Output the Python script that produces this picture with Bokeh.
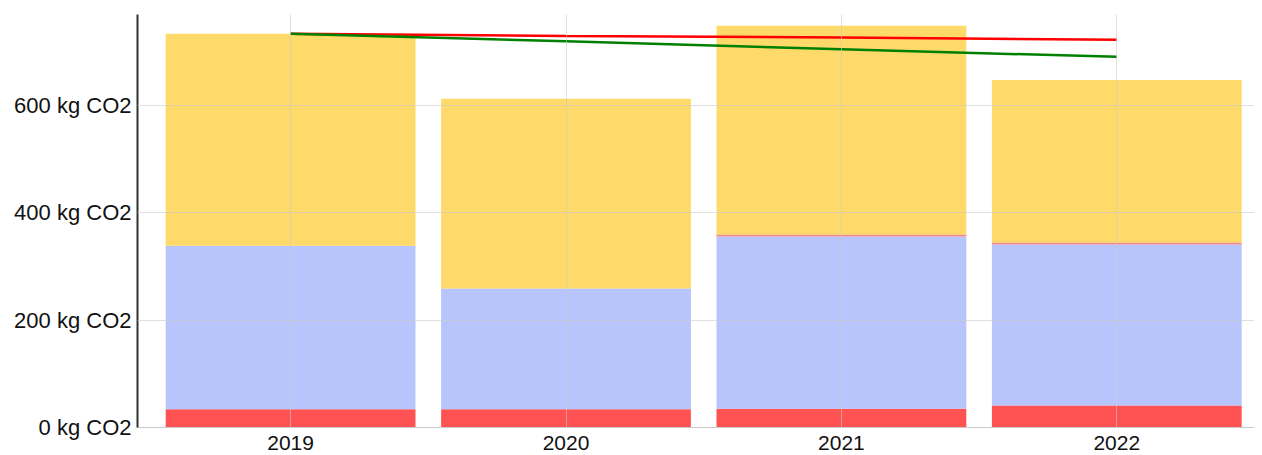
from bokeh.plotting import figure
from bokeh.models import ColumnDataSource, FixedTicker, Range1d, CustomJSTickFormatter
from bokeh.embed import file_html
from bokeh.resources import INLINE

years = [2019, 2020, 2021, 2022]
year_labels = ["2019", "2020", "2021", "2022"]
scope_a = [34, 34, 35, 41]
scope_b = [305, 225, 321, 300]
scope_c = [0, 0, 4, 4]
scope_d = [395, 354, 389, 303]
target_red = [734, 730, 727, 723]
target_green = [734, 720, 705, 691]
y_ticks = [0, 200, 400, 600]

src = ColumnDataSource(dict(x=years, a=scope_a, b=scope_b, c=scope_c, d=scope_d))

p = figure(width=1254, height=452, output_backend="svg", toolbar_location=None,
           x_range=Range1d(2018.444, 2022.5), y_range=Range1d(0, 770),
           min_border_left=137, min_border_right=0, min_border_top=14, min_border_bottom=25)
p.outline_line_color = None

p.vbar_stack(["a", "b", "c", "d"], x="x", width=0.907, source=src,
             color=["#FF3F3F", "#AFBFFC", "#F07C7C", "#FDD659"],
             fill_alpha=0.9, line_color=None)

p.line(years, target_red, line_color="#FF0000", line_width=2.5)
p.line(years, target_green, line_color="#008000", line_width=2.5)

p.xaxis.ticker = FixedTicker(ticks=years)
p.xaxis.major_label_overrides = {y: l for y, l in zip(years, year_labels)}
p.xaxis.axis_line_color = "#cccccc"
p.xaxis.major_tick_line_color = None
p.xaxis.minor_tick_line_color = None
p.xaxis.major_label_text_font = "Liberation Sans"
p.xaxis.major_label_text_font_size = "21px"
p.xaxis.major_label_text_color = "#111111"
p.xaxis.major_label_standoff = 2

p.yaxis.ticker = FixedTicker(ticks=y_ticks)
p.yaxis.formatter = CustomJSTickFormatter(code="return tick + ' kg CO2';")
p.yaxis.axis_line_color = "#333333"
p.yaxis.axis_line_width = 2
p.yaxis.major_tick_line_color = None
p.yaxis.minor_tick_line_color = None
p.yaxis.major_label_text_font = "Liberation Sans"
p.yaxis.major_label_text_font_size = "22px"
p.yaxis.major_label_text_color = "#111111"
p.yaxis.major_label_standoff = 0

p.xgrid.ticker = FixedTicker(ticks=years)
p.grid.grid_line_color = "#cccccc"
p.grid.grid_line_width = 1
p.xgrid.level = "overlay"
p.ygrid.level = "overlay"
p.grid.grid_line_alpha = 0.6

open("out.html", "w").write(file_html(p, INLINE))
